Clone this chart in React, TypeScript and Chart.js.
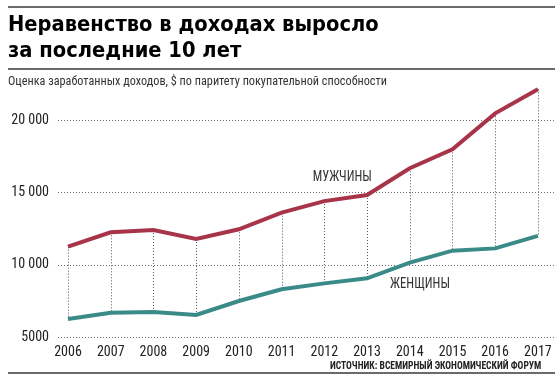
import React, { useEffect, useRef } from "react";
import { Chart, registerables } from "chart.js";

Chart.register(...registerables);

const years = ["2006", "2007", "2008", "2009", "2010", "2011", "2012", "2013", "2014", "2015", "2016", "2017"];
const menValues = [11250, 12240, 12400, 11780, 12450, 13600, 14400, 14820, 16670, 17980, 20470, 22130];
const womenValues = [6250, 6680, 6730, 6520, 7490, 8300, 8710, 9060, 10140, 10970, 11130, 12000];
const yTickValues = [5000, 10000, 15000, 20000];
const yTickLabels = ["5000", "10 000", "15 000", "20 000"];
const seriesLabels = ["МУЖЧИНЫ", "ЖЕНЩИНЫ"];
const labelAnchors = [
  { x: 6.42, y: 16000 },
  { x: 8.24, y: 8600 },
];

const MEN_COLOR = "#a8344a";
const WOMEN_COLOR = "#3a8b88";
const NARROW = '"Liberation Sans Narrow", "Roboto Condensed", "Liberation Sans", Arial, sans-serif';

const connectorPlugin = {
  id: "connectors",
  beforeDatasetsDraw(chart: any) {
    const ctx = chart.ctx;
    const area = chart.chartArea;
    const ys = chart.scales.y;
    const m0 = chart.getDatasetMeta(0).data;
    const m1 = chart.getDatasetMeta(1).data;
    ctx.save();
    ctx.lineWidth = 1;
    ctx.setLineDash([1, 2]);
    ctx.strokeStyle = "#6a6a6a";
    ys.ticks.forEach((t: any) => {
      const y = Math.round(ys.getPixelForValue(t.value)) + 0.5;
      ctx.beginPath();
      ctx.moveTo(area.left, y);
      ctx.lineTo(area.right, y);
      ctx.stroke();
    });
    ctx.strokeStyle = "#555";
    for (let i = 0; i < m0.length; i++) {
      const x = Math.round(m0[i].x) + 0.5;
      ctx.beginPath();
      ctx.moveTo(x, m0[i].y);
      ctx.lineTo(x, m1[i].y);
      ctx.stroke();
    }
    ctx.restore();
  },
  afterDatasetsDraw(chart: any) {
    const ctx = chart.ctx;
    const xs = chart.scales.x;
    const ys = chart.scales.y;
    ctx.save();
    ctx.fillStyle = "#333";
    ctx.font = '14px ' + NARROW;
    ctx.textAlign = "center";
    ctx.textBaseline = "middle";
    seriesLabels.forEach((t, i) => {
      const px = xs.getPixelForValue(labelAnchors[i].x);
      const py = ys.getPixelForValue(labelAnchors[i].y);
      ctx.save();
      ctx.translate(px, py);
      ctx.scale(0.9, 1);
      ctx.fillText(t, 0, 0);
      ctx.restore();
    });
    ctx.restore();
  },
};

function ChartView() {
  const ref = useRef<HTMLCanvasElement>(null);
  useEffect(() => {
    if (!ref.current) return;
    const chart = new Chart(ref.current, {
      type: "line",
      data: {
        datasets: [
          {
            label: seriesLabels[0],
            data: menValues.map((v, i) => ({ x: i, y: v })),
            borderColor: MEN_COLOR,
            borderWidth: 4,
            pointRadius: 0,
            tension: 0,
          },
          {
            label: seriesLabels[1],
            data: womenValues.map((v, i) => ({ x: i, y: v })),
            borderColor: WOMEN_COLOR,
            borderWidth: 4,
            pointRadius: 0,
            tension: 0,
          },
        ],
      },
      options: {
        animation: false,
        responsive: false,
        maintainAspectRatio: false,
        layout: { padding: { top: 84, right: 4, left: 0, bottom: 0 } },
        plugins: { legend: { display: false }, tooltip: { enabled: false }, title: { display: false } },
        scales: {
          x: {
            type: "linear",
            min: -0.234,
            max: 11.4,
            grid: { display: false, drawTicks: false },
            border: { display: false },
            afterBuildTicks: (s: any) => {
              s.ticks = years.map((_, i) => ({ value: i }));
            },
            afterFit: (s: any) => {
              s.height = 43;
            },
            ticks: {
              autoSkip: false,
              maxRotation: 0,
              padding: 7,
              color: "#222",
              font: { family: NARROW, size: 14 },
              callback: (v: any) => years[v] ?? "",
            },
          },
          y: {
            type: "linear",
            min: 5000,
            max: 22500,
            afterBuildTicks: (s: any) => {
              s.ticks = yTickValues.map((v) => ({ value: v }));
            },
            afterFit: (s: any) => {
              s.width = 58;
            },
            grid: { display: false, drawTicks: false },
            border: { display: false },
            ticks: {
              padding: 9,
              color: "#222",
              font: { family: NARROW, size: 14 },
              callback: (v: any) => yTickLabels[yTickValues.indexOf(v)] ?? "",
            },
          },
        },
      },
      plugins: [connectorPlugin],
    } as any);
    return () => chart.destroy();
  }, []);
  return <canvas ref={ref} width={559} height={380} style={{ display: "block", width: 559, height: 380 }} />;
}

export default function App() {
  const rule: React.CSSProperties = { position: "absolute", left: 8, width: 547, height: 2, background: "#6a6a6a" };
  return (
    <div style={{ position: "absolute", left: 0, top: 0, width: 559, height: 380, background: "#fff", overflow: "hidden" }}>
      <ChartView />
      <div style={{ ...rule, top: 6 }} />
      <div
        style={{
          position: "absolute",
          left: 8,
          top: 11,
          fontFamily: '"DejaVu Sans", sans-serif',
          fontWeight: 900,
          fontSize: 21,
          lineHeight: "26px",
          color: "#000",
          whiteSpace: "nowrap",
          transform: "scaleX(0.93)",
          transformOrigin: "left top",
        }}
      >
        <div>Неравенство в доходах выросло</div>
        <div>за последние 10 лет</div>
      </div>
      <div style={{ ...rule, top: 68 }} />
      <div
        style={{
          position: "absolute",
          left: 8,
          top: 73,
          fontFamily: NARROW,
          fontSize: 13,
          lineHeight: "15px",
          color: "#333",
          whiteSpace: "nowrap",
          transform: "scaleX(0.94)",
          transformOrigin: "left top",
        }}
      >
        Оценка заработанных доходов, $ по паритету покупательной способности
      </div>
      <div
        style={{
          position: "absolute",
          right: 18,
          top: 360,
          fontFamily: NARROW,
          fontWeight: 700,
          fontSize: 10,
          lineHeight: "12px",
          color: "#222",
          whiteSpace: "nowrap",
          transform: "scaleX(0.955)",
          transformOrigin: "right top",
        }}
      >
        ИСТОЧНИК: ВСЕМИРНЫЙ ЭКОНОМИЧЕСКИЙ ФОРУМ
      </div>
      <div style={{ ...rule, top: 372 }} />
    </div>
  );
}
